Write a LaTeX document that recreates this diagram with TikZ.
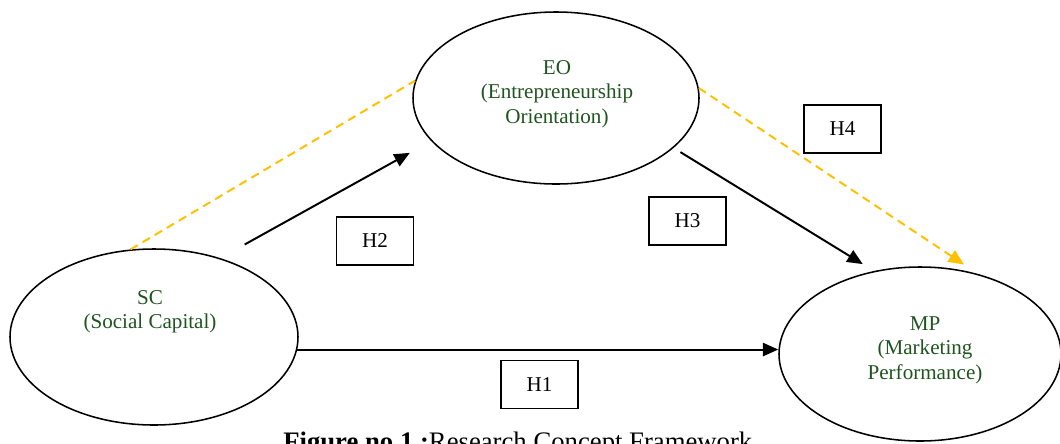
\documentclass[tikz,border=0pt]{standalone}
\usepackage{fontspec}
\setmainfont{Liberation Serif}
\usetikzlibrary{arrows.meta,shapes.geometric}
\definecolor{txtgreen}{RGB}{31,84,31}
\definecolor{gold}{RGB}{255,192,0}

\begin{document}
\begin{tikzpicture}[
  ell/.style={draw, ellipse, line width=1.1pt, inner sep=0pt},
  lbl/.style={text=txtgreen, align=center, inner sep=0pt, font=\fontsize{15}{17.4}\selectfont},
  hbox/.style={draw, line width=1.1pt, minimum width=1.925cm, minimum height=1.2cm, font=\fontsize{15}{17.4}\selectfont},
  path/.style={line width=1.4pt, -{Triangle[length=11pt,width=9.5pt]}},
  dpath/.style={gold, line width=1.4pt, dash pattern=on 6pt off 4pt}
]
\useasboundingbox (0,0) rectangle (26.5,-11.075);

\node (eo) at (13.9,-2.45) [ell, minimum width=7.15cm, minimum height=4.3cm] {};
\node (eotxt) at (13.925,-2.35) [lbl] {EO\\(Entrepreneurship\\Orientation)};

\node (sc) at (3.85,-8.425) [ell, minimum width=7.2cm, minimum height=4.4cm] {};
\node (sctxt) at (3.75,-7.8) [lbl] {SC\\(Social Capital)};

\node (mp) at (23.0,-8.85) [ell, minimum width=7.05cm, minimum height=4.35cm] {};
\node (mptxt) at (23.125,-8.75) [lbl] {MP\\(Marketing\\Performance)};

\node (h1) at (13.49,-9.61) [hbox] {H1};
\node (h2) at (9.375,-6.025) [hbox] {H2};
\node (h3) at (17.19,-5.525) [hbox] {H3};
\node (h4) at (21.06,-3.225) [hbox] {H4};

% hypothesised paths
\draw[path] (sc.-5.6) -- (sc.-5.6 -| mp.west);
\draw[path, shorten <=0.7cm, shorten >=0.61cm] (sc.50.7) -- (eo.199.9);
\draw[path, shorten <=0.2cm, shorten >=0.33cm] (eo.-23.8) -- (mp.119.6);

% mediation
\draw[dpath] (sc.105) -- (eo.173);
\draw[dpath, -{Triangle[length=11pt,width=9.5pt]}, shorten >=0.425cm] (eo.4) -- (mp.54.3);

\node (cap) at (7.075,-11.25) [anchor=base west, inner sep=0pt, font=\fontsize{19}{22}\selectfont] {\textbf{Figure no 1 :}Research Concept Framework};
\end{tikzpicture}
\end{document}
